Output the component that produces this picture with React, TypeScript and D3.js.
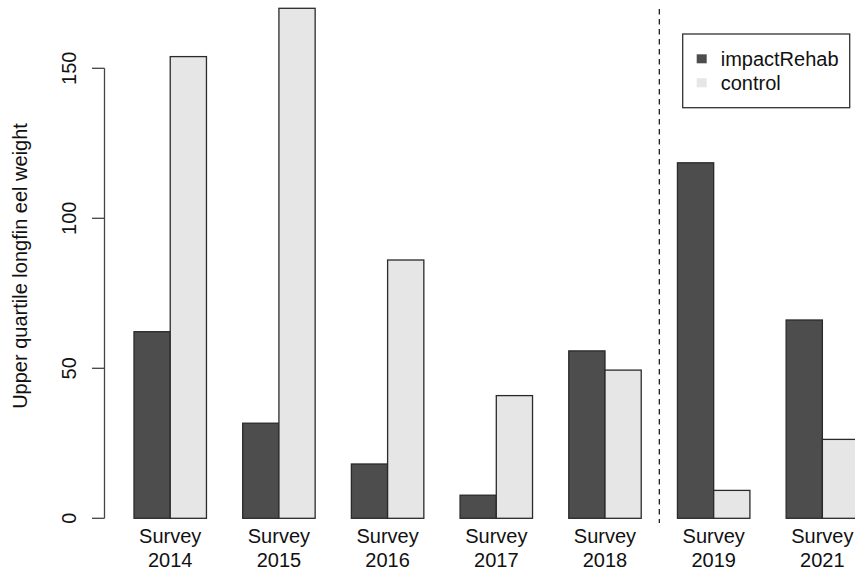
import React from "react";
import * as d3 from "d3";

const years = ["2014", "2015", "2016", "2017", "2018", "2019", "2021"];
const impactRehab = [62.2, 31.7, 18.1, 7.7, 55.8, 118.5, 66.1];
const control = [153.9, 170, 86.1, 40.9, 49.4, 9.3, 26.3];
const yTicks = [0, 50, 100, 150];
const seriesNames = ["impactRehab", "control"];
const seriesColors = ["#4d4d4d", "#e6e6e6"];
const dividerAfterGroup = 4;

const W = 855;
const H = 571;
const FONT = "'Liberation Sans', Arial, Helvetica, sans-serif";

export default function App() {
  // slot scale: one unit = one bar width
  const x = d3.scaleLinear().domain([0, 1]).range([134, 170.23]);
  const y = d3.scaleLinear().domain([0, 150]).range([518.3, 68.3]);
  const bw = x(1) - x(0);
  const series = [impactRehab, control];
  const slot = (g: number, s: number) => g * 3 + s;
  const axisX = 104.5;
  const divX = x(slot(dividerAfterGroup, 2) + 0.5);

  return (
    <svg
      width={W}
      height={H}
      style={{ position: "absolute", left: 0, top: 0, display: "block", background: "#fff" }}
      fontFamily={FONT}
    >
      {/* bars */}
      {years.map((yr, g) =>
        series.map((vals, s) => (
          <rect
            key={yr + s}
            x={x(slot(g, s))}
            y={y(vals[g])}
            width={bw}
            height={y(0) - y(vals[g])}
            fill={seriesColors[s]}
            stroke="#2a2a2a"
            strokeWidth={1.3}
          />
        ))
      )}
      {/* x labels */}
      {years.map((yr, g) => {
        const cx = x(slot(g, 1));
        return (
          <g key={"lab" + yr} fontSize={20} fill="#111" textAnchor="middle">
            <text x={cx} y={543}>Survey</text>
            <text x={cx} y={567}>{yr}</text>
          </g>
        );
      })}
      {/* y axis */}
      <line x1={axisX} x2={axisX} y1={y(0)} y2={y(150)} stroke="#444" strokeWidth={1.3} />
      {yTicks.map((t) => (
        <g key={"t" + t}>
          <line x1={axisX - 12.5} x2={axisX} y1={y(t)} y2={y(t)} stroke="#444" strokeWidth={1.3} />
          <text
            transform={`translate(76,${y(t)}) rotate(-90)`}
            textAnchor="middle"
            fontSize={20}
            fill="#111"
          >
            {t}
          </text>
        </g>
      ))}
      <text
        transform={`translate(27,266) rotate(-90)`}
        textAnchor="middle"
        fontSize={20}
        fill="#111"
      >
        Upper quartile longfin eel weight
      </text>
      {/* divider */}
      <line x1={divX} x2={divX} y1={9} y2={523} stroke="#222" strokeWidth={1.3} strokeDasharray="5.5,4.5" />
      {/* legend */}
      <rect x={682.7} y={34} width={167} height={73.7} fill="#fff" stroke="#333" strokeWidth={1.3} />
      {seriesNames.map((n, i) => (
        <g key={n}>
          <rect x={696.7} y={54.3 + i * 24} width={10} height={9} fill={seriesColors[i]} />
          <text x={720.7} y={66 + i * 24} fontSize={20} fill="#111">
            {n}
          </text>
        </g>
      ))}
    </svg>
  );
}
